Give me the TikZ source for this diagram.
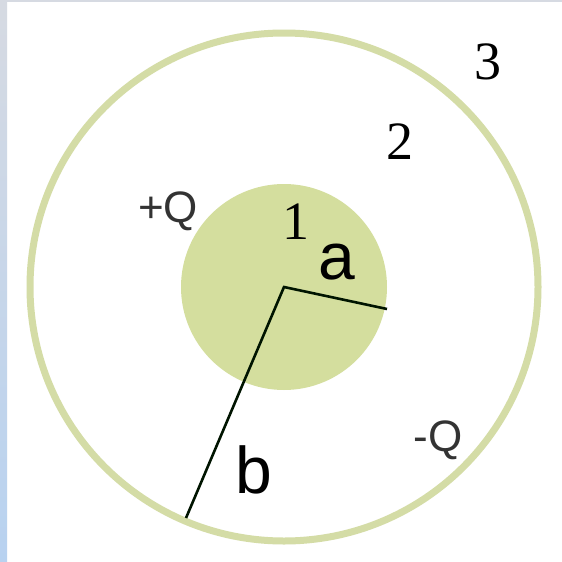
\documentclass[tikz,border=0pt]{standalone}
\usepackage{fontspec}
\setmainfont{Liberation Serif}
\newfontfamily\labelsans{Liberation Sans}
\usetikzlibrary{positioning}

\definecolor{ringgreen}{RGB}{212,220,166}
\definecolor{coregreen}{RGB}{212,222,158}
\definecolor{stripgray}{RGB}{214,218,226}
\definecolor{stripblue}{RGB}{184,210,240}

\begin{document}
\begin{tikzpicture}[
        x=1pt, y=-1pt,
        region/.style ={inner sep=0pt, font=\fontsize{54}{54}\selectfont},
        charge/.style ={inner sep=0pt, text=black!80,
                        font=\labelsans\fontsize{44}{44}\selectfont},
        radlbl/.style ={inner sep=0pt, font=\labelsans\fontsize{66}{66}\selectfont},
        radline/.style={line width=2.6pt, black!80!green!40!black, line join=miter},
    ]
    \useasboundingbox (0,0) rectangle (562,562);
    \fill[white] (0,0) rectangle (562,562);

    % ===================== Frame strips =====================
    \fill[stripgray] (0,0) rectangle (562,2);
    \shade[top color=stripgray, bottom color=stripblue] (0,0) rectangle (7,562);

    % ===================== Spheres =====================
    \coordinate (O) at (284,287);
    \fill[coregreen] (O) circle (103);
    \draw[ringgreen, line width=7pt] (O) circle (254);

    % ===================== Radii =====================
    \coordinate (aend) at (387,309);
    \coordinate (bend) at (186,518);
    \draw[radline] (aend) -- (O) -- (bend);

    \node[radlbl] (alab) at (337,262) {a};
    \node[radlbl] (blab) at (254,470) {b};

    % ===================== Regions and charges =====================
    \node[region] (r1) at (296,222) {1};
    \node[region] (r2) at (400,142) {2};
    \node[region] (r3) at (488,62)  {3};

    \node[charge] (qpos) at (168,211) {+Q};
    \node[charge] (qneg) at (438,440) {-Q};
\end{tikzpicture}
\end{document}
